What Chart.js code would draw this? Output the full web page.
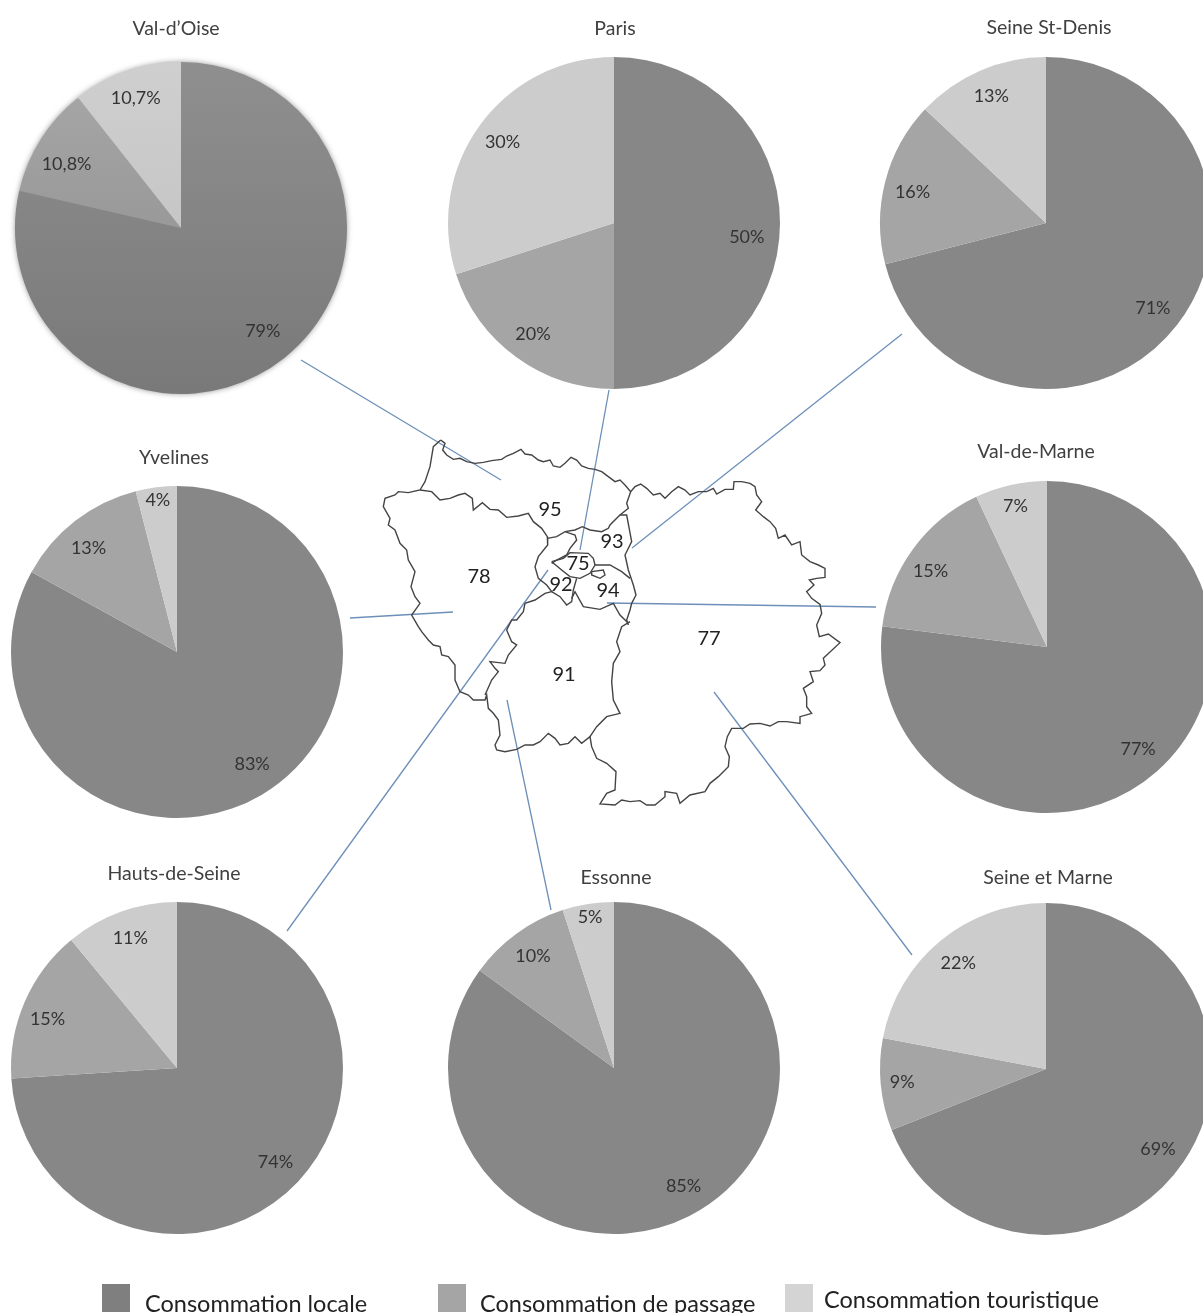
<!DOCTYPE html>
<html>
<head>
<meta charset="utf-8">
<title>Consommation par département</title>
<script src="https://cdn.jsdelivr.net/npm/chart.js@4"></script>
<style>
  html, body { margin: 0; padding: 0; background: #fff; }
  #page { position: relative; width: 1203px; height: 1313px; overflow: hidden; font-family: Lato, sans-serif; color: #333; }
  #page canvas { position: absolute; }
  .txt { position: absolute; transform: translate(-50%, -50%); white-space: nowrap; }
  .title { font-size: 19.5px; color: #404040; }
  .code { font-size: 20px; color: #222; }
  .swatch { position: absolute; width: 28px; height: 28px; }
  .legend { position: absolute; font-size: 23.5px; color: #222; white-space: nowrap; line-height: 24px; }
</style>
</head>
<body>
<div id="page"></div>
<script>
// Categories and series
const categories = ['Consommation locale', 'Consommation de passage', 'Consommation touristique'];
const departments = ['Val-d\u2019Oise', 'Paris', 'Seine St-Denis', 'Yvelines', 'Val-de-Marne', 'Hauts-de-Seine', 'Essonne', 'Seine et Marne'];

// Slice sizes as drawn. Val-de-Marne is printed 15% but its labels only add up to 99
const localValues = [79, 50, 71, 83, 77, 74, 85, 69];
const passageValues = [10.8, 20, 16, 13, 16, 15, 10, 9];
const touristValues = [10.7, 30, 13, 4, 7, 11, 5, 22];

// Labels as printed
const localLabels = ['79%', '50%', '71%', '83%', '77%', '74%', '85%', '69%'];
const passageLabels = ['10,8%', '20%', '16%', '13%', '15%', '15%', '10%', '9%'];
const touristLabels = ['10,7%', '30%', '13%', '4%', '7%', '11%', '5%', '22%'];

// Layout: pie centres and title positions on the page
const pieCentres = [[181, 227.5], [614, 222.5], [1046, 222.5], [177, 651.5], [1047, 647], [177, 1067.5], [614, 1067.5], [1046, 1069]];
const titleCentres = [[176, 27], [615, 27], [1049, 26], [174, 456], [1036, 450], [174, 872], [616, 876], [1048, 876]];
const localLabelNudge = [[-4, -5], [-5, 14], [-2, 1], [5, -6], [0, -1], [-2, 0], [7, -5], [-2, 3]];
const passageLabelNudge = [[2, 10], [0, 0], [0, 3], [-4, 5], [-5, 5], [-3, 6], [0, 0], [0, 0]];
const pieRadius = 166;
const colours = ['#878787', '#a5a5a5', '#cccccc'];

function crop(ox, oy, flat) {
  const pts = [];
  for (let i = 0; i < flat.length; i += 2) {
    pts.push({ x: ox + flat[i] / 3, y: oy + flat[i + 1] / 3 });
  }
  return pts;
}

const mapOuter = [].concat(
  crop(375, 430, [197,30, 210,40, 203,60, 215,75, 235,88, 255,85, 275,95, 300,100, 325,97, 350,92, 380,88, 395,78, 415,70, 438,58, 450,72, 470,75, 490,90, 505,95, 525,90, 535,108, 555,112, 570,100, 588,82, 605,90, 620,108, 640,115, 660,118, 680,125, 700,140, 720,155]),
  crop(610, 470, [30,30, 45,45, 62,65, 75,50, 92,42, 110,55, 130,75, 150,70, 165,85, 185,65, 205,50, 225,60, 240,75, 265,65, 290,65, 310,55, 320,72, 345,58, 370,58, 372,35, 395,35, 420,40, 435,50, 440,75, 455,95, 437,120, 460,140, 480,155, 497,175, 505,205, 525,195, 545,225, 570,215, 575,255, 600,275, 625,285, 645,295, 645,322, 620,325, 598,330, 612,345, 590,365, 605,385, 630,403, 635,430, 620,465, 628,500, 655,492, 690,518]),
  crop(590, 650, [700,25, 705,45, 690,62, 660,65, 670,95, 640,115, 650,140, 650,170, 665,190, 630,200, 630,220, 590,215, 565,215, 540,228, 510,220, 480,222, 460,235, 425,235, 412,260, 405,290, 418,320, 415,350, 385,380, 360,400, 345,425, 300,435, 270,460, 260,430, 225,425, 225,440, 195,465, 170,465, 150,452, 120,455, 95,450, 75,465, 30,462, 50,430, 75,420, 78,365, 50,340, 20,325, 5,290, 0,260]),
  crop(440, 620, [425,370, 405,350, 385,370, 360,375, 345,355, 325,340, 300,365, 280,375, 255,375, 230,388, 195,395, 170,390, 165,375, 180,345, 175,300, 160,280, 145,265, 140,225, 135,240, 100,240, 85,225, 60,215, 45,180, 45,135, 25,110, 5,105, 0,80]),
  crop(370, 430, [190,645, 175,630, 155,605, 145,590, 125,555]),
  crop(375, 430, [135,520, 120,500, 108,470, 120,425, 100,390, 95,360, 75,340, 60,300, 40,285, 45,265, 25,230, 30,205, 60,195, 70,185, 100,188, 135,180, 150,155, 165,110, 175,50, 197,30])
);
const map78North = [].concat(
  crop(375, 430, [135,180, 170,185, 195,210, 225,205, 250,195, 270,190, 292,205, 295,240, 322,218, 345,238, 370,240, 395,262, 430,258, 460,250, 475,275, 500,295, 517,320, 518,345, 490,380, 480,410, 490,445, 515,465, 530,485, 510,490, 480,510, 450,520, 445,545, 425,570]),
  crop(440, 620, [215,0, 200,30, 215,65, 230,75, 205,105, 195,130, 150,125, 165,145, 175,155, 155,180, 135,225])
);
const map92North = crop(375, 430, [517,325, 545,320, 570,305, 600,315, 605,330, 585,355, 575,375, 545,390, 530,400]);
const mapParis = crop(520, 510, [95,155, 125,180, 150,200, 180,205, 210,190, 225,165, 220,145, 205,130, 150,128, 130,145, 95,155]);
const map92East = crop(375, 430, [605,445, 595,480, 590,515, 575,525, 555,500, 530,485]);
const map93 = [].concat(
  crop(375, 430, [570,305, 600,300, 622,290, 645,300, 680,305, 700,295]),
  crop(610, 470, [0,165, 30,135, 50,135, 65,215, 45,255, 55,300, 70,345, 78,375, 65,400, 60,420, 50,450, 55,465])
);
const map95East = crop(610, 470, [62,65, 50,100, 55,115, 30,135]);
const map94South = crop(520, 510, [155,265, 165,245, 190,290, 240,298, 280,280, 300,315, 325,340]);
const map94North = crop(520, 510, [225,165, 240,165, 270,165, 305,185, 330,205]);
const mapBlob = crop(520, 510, [215,185, 250,180, 255,195, 240,205, 215,195, 215,185]);
const map91East = crop(440, 620, [570,5, 545,20, 530,65, 540,95, 520,130, 515,185, 520,240, 540,280, 500,290, 470,320, 450,350]);
const mapBorders = [mapOuter, map78North, map92North, mapParis, map92East, map93, map95East, map94South, map94North, mapBlob, map91East];

// Map department numbers
const mapCodes = ['95', '93', '75', '92', '94', '78', '77', '91'];
const mapCodeCentres = [[550, 508], [612, 540], [578, 562], [561, 583], [608, 589], [479, 575], [709, 637], [564, 673]];

// Leader lines from each pie to the map
const leaders = [
  [[301, 360], [501, 480]],
  [[609, 390], [580, 550]],
  [[902, 334], [632, 548]],
  [[350, 618], [453, 612]],
  [[876, 607], [607, 603]],
  [[287, 931], [548, 570]],
  [[551, 910], [507, 700]],
  [[912, 955], [714, 692]]
];

const page = document.getElementById('page');

// Base chart with the map and the leader lines, page pixels as axes
const mapCanvas = document.createElement('canvas');
mapCanvas.width = 1203;
mapCanvas.height = 1313;
mapCanvas.style.left = '0px';
mapCanvas.style.top = '0px';
page.appendChild(mapCanvas);

new Chart(mapCanvas.getContext('2d'), {
  type: 'scatter',
  data: {
    datasets: mapBorders.map(b => ({
      data: b, showLine: true, borderColor: '#444', borderWidth: 1.4, pointRadius: 0
    })).concat(leaders.map(l => ({
      data: l.map(p => ({ x: p[0], y: p[1] })), showLine: true, borderColor: '#6d8fb8', borderWidth: 1.3, pointRadius: 0
    })))
  },
  options: {
    responsive: false,
    animation: false,
    layout: { padding: 0 },
    plugins: { legend: { display: false }, tooltip: { enabled: false } },
    scales: {
      x: { type: 'linear', display: false, min: 0, max: 1203 },
      y: { type: 'linear', display: false, min: 0, max: 1313, reverse: true }
    }
  }
});

// Percent labels, pushed out a bit on the narrow slices like Excel does
const percentLabels = {
  id: 'percentLabels',
  afterDatasetsDraw(chart) {
    const ctx = chart.ctx;
    const meta = chart.getDatasetMeta(0);
    const values = chart.data.datasets[0].data;
    const total = values.reduce((a, b) => a + b, 0);
    ctx.save();
    ctx.font = '18px Lato, sans-serif';
    ctx.fillStyle = '#333';
    ctx.textAlign = 'center';
    ctx.textBaseline = 'middle';
    meta.data.forEach((arc, i) => {
      const share = values[i] / total * 100;
      const f = share <= 5.5 ? 0.92 : share <= 9.5 ? 0.87 : 0.83;
      const a = (arc.startAngle + arc.endAngle) / 2;
      const nudge = chart.data.labelNudges[i];
      ctx.fillText(chart.data.sliceLabels[i],
        arc.x + Math.cos(a) * arc.outerRadius * f + nudge[0],
        arc.y + Math.sin(a) * arc.outerRadius * f + nudge[1]);
    });
    ctx.restore();
  }
};

// Soft shadow behind the Val-d'Oise pie
const pieShadow = {
  id: 'pieShadow',
  beforeDatasetsDraw(chart, args, opts) {
    if (!opts.on) return;
    const arc = chart.getDatasetMeta(0).data[0];
    const ctx = chart.ctx;
    ctx.save();
    ctx.shadowColor = 'rgba(0,0,0,0.55)';
    ctx.shadowBlur = 6;
    ctx.fillStyle = '#888';
    ctx.beginPath();
    ctx.arc(arc.x, arc.y, arc.outerRadius - 1, 0, Math.PI * 2);
    ctx.fill();
    ctx.restore();
  }
};

departments.forEach((name, i) => {
  const size = pieRadius * 2 + 20;
  const canvas = document.createElement('canvas');
  canvas.width = size;
  canvas.height = size;
  canvas.style.left = (pieCentres[i][0] - size / 2) + 'px';
  canvas.style.top = (pieCentres[i][1] - size / 2) + 'px';
  page.appendChild(canvas);

  const ctx = canvas.getContext('2d');
  let fills = colours;
  if (i === 0) {
    // Val-d'Oise has the gradient look
    const grads = [['#8f8f8f', '#797979'], ['#a8a8a8', '#999999'], ['#cfcfcf', '#c6c6c6']];
    fills = grads.map((g, k) => {
      const lg = ctx.createLinearGradient(0, 10, 0, k === 0 ? size - 10 : size / 2);
      lg.addColorStop(0, g[0]);
      lg.addColorStop(1, g[1]);
      return lg;
    });
  }

  new Chart(ctx, {
    type: 'pie',
    data: {
      labels: categories,
      sliceLabels: [localLabels[i], passageLabels[i], touristLabels[i]],
      labelNudges: [localLabelNudge[i], passageLabelNudge[i], [0, 0]],
      datasets: [{
        data: [localValues[i], passageValues[i], touristValues[i]],
        backgroundColor: fills,
        borderWidth: 0
      }]
    },
    options: {
      responsive: false,
      animation: false,
      layout: { padding: 10 },
      plugins: {
        legend: { display: false },
        tooltip: { enabled: false },
        pieShadow: { on: i === 0 }
      }
    },
    plugins: [pieShadow, percentLabels]
  });

  const title = document.createElement('div');
  title.className = 'txt title';
  title.textContent = name;
  title.style.left = titleCentres[i][0] + 'px';
  title.style.top = titleCentres[i][1] + 'px';
  page.appendChild(title);
});

mapCodes.forEach((code, i) => {
  const el = document.createElement('div');
  el.className = 'txt code';
  el.textContent = code;
  el.style.left = mapCodeCentres[i][0] + 'px';
  el.style.top = mapCodeCentres[i][1] + 'px';
  page.appendChild(el);
});

// Legend at the bottom
const legendSwatches = [[102, 1284], [438, 1284], [785, 1284]];
const legendTexts = [[145, 1291], [480, 1291], [824, 1287]];
const legendFills = ['#7f7f7f', '#a5a5a5', '#d4d4d4'];
categories.forEach((cat, i) => {
  const sw = document.createElement('div');
  sw.className = 'swatch';
  sw.style.left = legendSwatches[i][0] + 'px';
  sw.style.top = legendSwatches[i][1] + 'px';
  sw.style.background = legendFills[i];
  page.appendChild(sw);
  const tx = document.createElement('div');
  tx.className = 'legend';
  tx.textContent = cat;
  tx.style.left = legendTexts[i][0] + 'px';
  tx.style.top = legendTexts[i][1] + 'px';
  page.appendChild(tx);
});
</script>
</body>
</html>
